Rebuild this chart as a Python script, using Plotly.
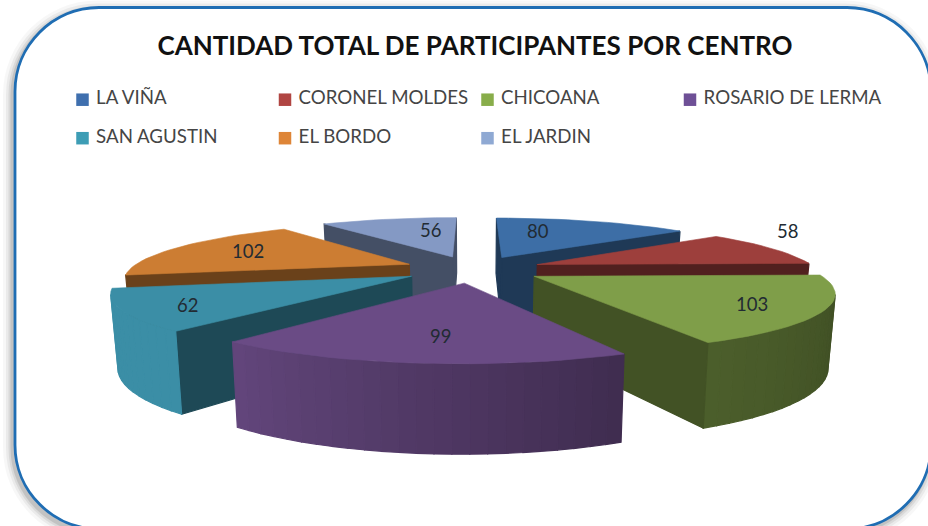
import numpy as np
import plotly.graph_objects as go

TITLE = "CANTIDAD TOTAL DE PARTICIPANTES POR CENTRO"
CENTROS = ["LA VIÑA", "CORONEL MOLDES", "CHICOANA", "ROSARIO DE LERMA",
           "SAN AGUSTIN", "EL BORDO", "EL JARDIN"]
PARTICIPANTES = [80, 58, 103, 99, 62, 102, 56]

TOP_COLORS = ["#3d6ea6", "#9d3f3c", "#7f9e49", "#6a4b85", "#3b8ea6", "#cc7d33", "#8499c4"]
KEY_COLORS = ["#3f6fae", "#b04542", "#88ad4a", "#6e5096", "#3d9db5", "#de8537", "#8fa9d3"]
LABEL_SHIFT = [(-22, -3), (106, -23), (54, 8), (2, 11), (-60, 9), (-19, -3), (19, -3)]

# projection of the tilted pie plane on to the page
CX, CY, RX, RY, PERSP = 473, 269, 279, 53.6, 0.2355
EXPLODE, DROP, DROP_POW, INSET = 0.25, 68, 0.82, 0.98
FONT = "Lato"


def top(x, y):
    s = 1 / (1 - PERSP * y)
    return CX + RX * x * s, CY + RY * y * s


def bottom(x, y):
    s = 1 / (1 - PERSP * y)
    sx, sy = top(x, y)
    return CX + (sx - CX) * INSET, sy + DROP * s ** DROP_POW


def shade(hex_color, m):
    r, g, b = (int(hex_color[i:i + 2], 16) for i in (1, 3, 5))
    return f"rgb({int(r * m)},{int(g * m)},{int(b * m)})"


def poly(fig, pts, color, lw=0.6):
    xs, ys = zip(*pts)
    fig.add_trace(go.Scatter(
        x=list(xs) + [xs[0]], y=list(ys) + [ys[0]], mode="lines", fill="toself",
        fillcolor=color, line=dict(color=color, width=lw),
        hoverinfo="skip", showlegend=False))


def area(pts):
    return sum(pts[i][0] * pts[(i + 1) % len(pts)][1] - pts[(i + 1) % len(pts)][0] * pts[i][1]
               for i in range(len(pts))) / 2


total = sum(PARTICIPANTES)
edges = -90 + np.cumsum([0] + PARTICIPANTES) / total * 360
mids = (edges[:-1] + edges[1:]) / 2

fig = go.Figure()

# panel: soft shadow, then blue rounded outline
L, T, R, B, C = 15, 7.5, 931, 529, 84


def panel(dx=0, dy=0):
    l, t, r, b = L + dx, T + dy, R + dx, B + dy
    k = C * 0.45
    return (f"M {l},{t + C} C {l},{t + k} {l + k},{t} {l + C},{t} L {r - C},{t} "
            f"C {r - k},{t} {r},{t + k} {r},{t + C} L {r},{b - C} "
            f"C {r},{b - k} {r - k},{b} {r - C},{b} L {l + C},{b} "
            f"C {l + k},{b} {l},{b - k} {l},{b - C} Z")


shapes = []
for w, a in [(20, 0.03), (14, 0.05), (9, 0.07), (5, 0.1)]:
    shapes.append(dict(type="path", path=panel(-2, 3), xref="x", yref="y", layer="below",
                       line=dict(color=f"rgba(0,0,0,{a})", width=w)))
shapes.append(dict(type="path", path=panel(), xref="x", yref="y", layer="below",
                   fillcolor="white", line=dict(color="#1f6db3", width=2.8)))

# slices, from the back to the front
for i in sorted(range(len(CENTROS)), key=lambda j: np.sin(np.radians(mids[j]))):
    a0, a1 = edges[i], edges[i + 1]
    ox = EXPLODE * np.cos(np.radians(mids[i]))
    oy = EXPLODE * np.sin(np.radians(mids[i]))
    n = max(2, int((a1 - a0) / 2.5))
    th = np.linspace(a0, a1, n)
    plane = [(ox, oy)] + [(ox + np.cos(np.radians(t)), oy + np.sin(np.radians(t))) for t in th]
    top_pts = [top(*p) for p in plane]
    bot_pts = [bottom(*p) for p in plane]
    m = len(plane)
    faces = []
    for k in range(m):
        q = (k + 1) % m
        quad = [top_pts[k], top_pts[q], bot_pts[q], bot_pts[k]]
        if area(quad) < 0:
            if k == 0 or k == m - 1:
                faces.append((quad, 0.52))
            else:
                t_mid = (th[k - 1] + th[k]) / 2
                faces.append((quad, float(np.interp(t_mid, [-90, 0, 65, 128, 129, 270],
                                                    [.47, .47, .6, .93, 1, 1]))))
    for quad, mult in faces:
        poly(fig, quad, shade(TOP_COLORS[i], mult), lw=1.2)
    poly(fig, top_pts, TOP_COLORS[i])

# value labels
annotations = []
for i, v in enumerate(PARTICIPANTES):
    r = EXPLODE + 0.6
    x, y = top(r * np.cos(np.radians(mids[i])), r * np.sin(np.radians(mids[i])))
    annotations.append(dict(x=x, y=y, text=str(v), showarrow=False,
                            xshift=LABEL_SHIFT[i][0], yshift=-LABEL_SHIFT[i][1],
                            font=dict(family=FONT, size=18.5, color="#222b33")))

# key, two rows of four columns
for i, name in enumerate(CENTROS):
    col, row = i % 4, i // 4
    fig.add_trace(go.Scatter(
        x=[82.5 + col * 202.5], y=[99.7 + row * 38.5], mode="markers+text", name=name,
        text=[" " + name], textposition="middle right",
        textfont=dict(family=FONT, size=18.7, color="#454545"),
        marker=dict(symbol="square", size=12.5, color=KEY_COLORS[i]),
        hoverinfo="skip", showlegend=False))

fig.update_layout(
    width=928, height=526, margin=dict(l=0, r=0, t=0, b=0),
    paper_bgcolor="white", plot_bgcolor="rgba(0,0,0,0)",
    xaxis=dict(range=[0, 928], visible=False, fixedrange=True),
    yaxis=dict(range=[526, 0], visible=False, fixedrange=True),
    shapes=shapes, annotations=annotations,
    title=dict(text=f"<b>{TITLE}</b>", x=475 / 928, y=1 - 46 / 526, xanchor="center", yanchor="middle",
               font=dict(family=FONT, size=26, color="#111111")),
    showlegend=False)

fig.write_html("out.html", post_script="document.body.style.margin='0';document.body.style.overflow='hidden';",
               config=dict(displayModeBar=False))
